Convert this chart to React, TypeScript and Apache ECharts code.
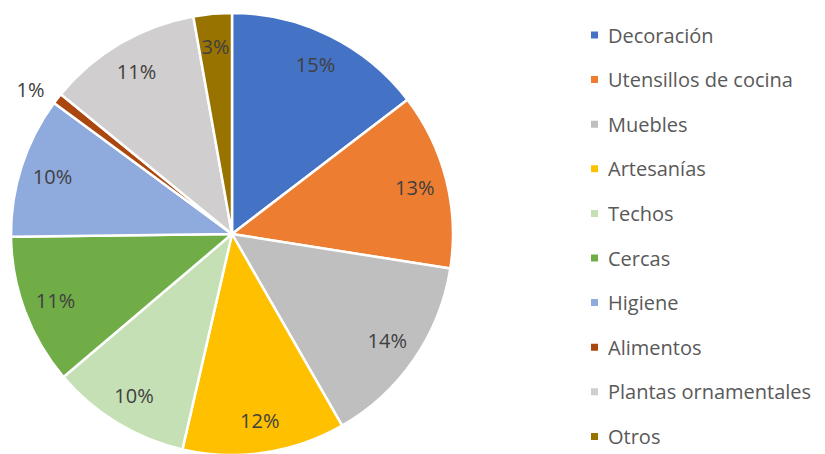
import React, { useEffect, useRef } from "react";
import * as echarts from "echarts";

const categories = [
  "Decoración",
  "Utensillos de cocina",
  "Muebles",
  "Artesanías",
  "Techos",
  "Cercas",
  "Higiene",
  "Alimentos",
  "Plantas ornamentales",
  "Otros",
];
const values = [14.6, 12.9, 14.2, 11.9, 10.2, 11.0, 10.3, 0.8, 11.3, 2.8];
const colors = [
  "#4472C4",
  "#ED7D31",
  "#BFBFBF",
  "#FFC000",
  "#C5E0B4",
  "#70AD47",
  "#8FAADC",
  "#A9470E",
  "#D0CECE",
  "#997300",
];

export default function App() {
  const ref = useRef<HTMLDivElement>(null);
  useEffect(() => {
    if (!ref.current) return;
    const chart = echarts.init(ref.current, undefined, { renderer: "svg" });
    const font = "'Open Sans', Lato, sans-serif";
    const total = values.reduce((a, b) => a + b, 0);
    const fmt = (p: any) => Math.round((p.value / total) * 100) + "%";
    const cx = 224;
    const cy = 226;
    chart.setOption({
      animation: false,
      color: colors,
      legend: {
        orient: "vertical",
        left: 581,
        top: 17,
        padding: 0,
        itemWidth: 9,
        itemHeight: 9,
        itemGap: 24.6,
        icon: "rect",
        textStyle: {
          fontFamily: font,
          fontSize: 20,
          color: "#595959",
          lineHeight: 20,
          padding: [0, 0, 0, 4],
        },
        data: categories,
      },
      series: [
        {
          type: "pie",
          center: [cx, cy],
          radius: [0, 221],
          startAngle: 90,
          clockwise: true,
          itemStyle: { borderColor: "#fff", borderWidth: 2.5 },
          label: { show: false },
          labelLine: { show: false },
          data: categories.map((c, i) => ({ name: c, value: values[i] })),
        },
        {
          type: "pie",
          center: [cx, cy],
          radius: [150, 221],
          startAngle: 90,
          clockwise: true,
          silent: true,
          legendHoverLink: false,
          itemStyle: { color: "rgba(0,0,0,0)", borderWidth: 0 },
          label: {
            show: true,
            position: "inside",
            formatter: fmt,
            fontFamily: font,
            fontSize: 20,
            color: "#404040",
            overflow: "none",
          },
          labelLine: { show: false },
          emphasis: { disabled: true },
          data: categories.map((c, i) =>
            c === "Alimentos"
              ? {
                  name: c + " ",
                  value: values[i],
                  label: {
                    position: "outside",
                    distanceToLabelLine: 0,
                    overflow: "none",
                    alignTo: "none",
                  },
                  labelLine: { show: false, length: 15, length2: 1 },
                }
              : { name: c + " ", value: values[i] }
          ),
        },
      ],
    });
    return () => chart.dispose();
  }, []);
  return <div ref={ref} style={{ width: 817, height: 446 }} />;
}
